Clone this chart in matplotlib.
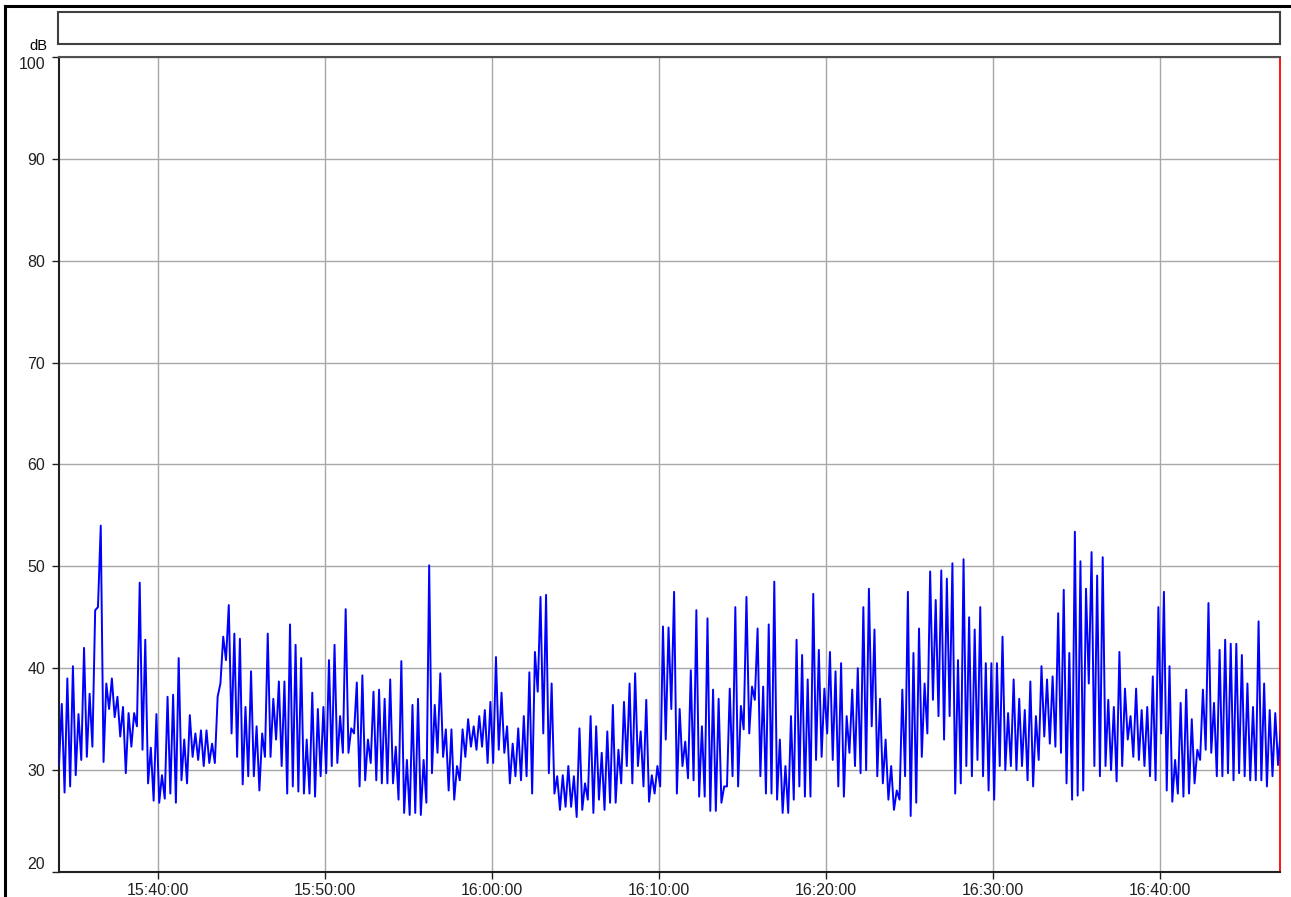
import numpy as np
import pandas as pd
import matplotlib
matplotlib.use('Agg')
import matplotlib.pyplot as plt
from matplotlib.patches import Rectangle
from matplotlib.lines import Line2D

# sound level record in 20 s bins (min / max per bin)
day = '2013-01-01 '
start = pd.Timestamp(day + '15:34:04')
end = pd.Timestamp(day + '16:47:11')
bin_sec = 20

lo_db = [
    30.5, 27.8, 28.4, 29.5, 31.0, 31.3, 32.3, 46.0, 30.8, 36.0,
    35.2, 33.3, 29.7, 32.3, 34.3, 32.0, 28.7, 27.0, 26.8, 27.2,
    27.7, 26.8, 29.0, 28.7, 31.3, 31.0, 30.4, 30.7, 30.7, 38.5,
    40.8, 33.6, 31.3, 28.6, 29.4, 29.4, 28.0, 31.3, 31.3, 33.0,
    30.4, 27.7, 28.4, 27.9, 27.7, 27.7, 27.4, 29.4, 29.7, 30.4,
    30.7, 31.7, 31.7, 33.6, 28.4, 29.0, 30.7, 29.0, 28.7, 28.7,
    28.7, 27.1, 25.8, 25.6, 25.8, 25.6, 26.8, 29.7, 31.7, 31.3,
    28.0, 27.1, 29.0, 31.3, 32.3, 32.0, 32.3, 30.7, 30.7, 32.0,
    31.7, 28.7, 29.4, 29.0, 29.4, 27.7, 37.7, 33.6, 29.7, 27.7,
    26.1, 26.4, 26.4, 25.4, 26.1, 27.1, 25.8, 27.1, 26.1, 26.8,
    26.8, 28.7, 30.4, 28.7, 30.4, 28.4, 26.9, 27.7, 28.4, 33.0,
    36.0, 27.7, 30.4, 29.2, 29.0, 27.4, 27.4, 26.0, 26.0, 26.8,
    28.4, 29.4, 28.4, 34.0, 33.6, 36.9, 29.4, 27.7, 27.7, 27.1,
    25.8, 25.8, 27.1, 28.4, 27.4, 27.4, 31.0, 31.3, 33.6, 31.0,
    28.4, 27.4, 31.7, 30.4, 29.7, 30.0, 34.3, 29.4, 28.7, 27.1,
    26.1, 27.1, 29.4, 25.5, 26.8, 31.3, 33.6, 36.9, 35.3, 33.0,
    35.3, 27.7, 28.7, 30.4, 29.4, 31.0, 29.4, 28.0, 27.1, 30.4,
    30.0, 30.4, 30.0, 30.4, 29.0, 28.4, 31.0, 33.3, 32.6, 32.3,
    31.7, 28.7, 27.1, 27.5, 28.0, 38.5, 30.4, 29.4, 30.4, 30.0,
    28.9, 30.4, 33.0, 31.3, 31.0, 30.4, 29.4, 29.0, 33.6, 28.0,
    26.9, 27.7, 27.4, 27.7, 28.7, 31.0, 32.0, 31.7, 29.4, 29.4,
    29.7, 29.0, 29.7, 29.4, 29.0, 29.0, 29.0, 28.4, 29.4, 30.5,
]
hi_db = [
    36.5, 39.0, 40.2, 35.5, 42.0, 37.5, 45.7, 54.0, 38.5, 39.0,
    37.2, 36.2, 35.6, 35.6, 48.4, 42.8, 32.2, 35.5, 29.5, 37.2,
    37.4, 41.0, 33.0, 35.4, 33.6, 33.9, 33.9, 32.6, 37.2, 43.1,
    46.2, 43.4, 42.9, 36.2, 39.7, 34.3, 33.6, 43.4, 37.0, 38.7,
    38.7, 44.3, 42.3, 41.0, 33.0, 37.6, 36.0, 36.2, 40.8, 42.3,
    35.3, 45.8, 34.1, 38.6, 39.3, 33.0, 37.7, 37.9, 37.0, 38.9,
    32.3, 40.7, 31.0, 36.4, 37.0, 31.0, 50.1, 36.4, 39.5, 34.0,
    34.0, 30.4, 34.0, 35.0, 34.3, 35.3, 35.9, 36.7, 41.1, 37.6,
    34.3, 32.6, 34.1, 35.3, 39.6, 41.6, 47.0, 47.2, 38.5, 29.4,
    29.5, 30.4, 29.4, 34.1, 28.7, 35.3, 34.3, 31.7, 33.8, 36.4,
    32.0, 36.7, 38.5, 39.5, 33.8, 36.9, 29.5, 30.4, 44.1, 44.0,
    47.5, 36.0, 32.8, 39.8, 45.7, 34.3, 44.9, 37.9, 37.0, 28.4,
    38.0, 46.0, 36.3, 47.0, 38.2, 43.9, 38.2, 44.3, 48.5, 33.0,
    30.4, 35.3, 42.8, 41.3, 38.9, 47.3, 41.8, 38.0, 41.6, 39.7,
    40.5, 35.3, 37.9, 40.0, 46.0, 47.8, 43.8, 37.0, 33.0, 30.4,
    28.0, 37.9, 47.5, 41.5, 43.9, 38.5, 49.5, 46.7, 49.6, 48.8,
    50.3, 40.8, 50.7, 45.0, 43.8, 46.0, 40.5, 40.5, 40.5, 43.1,
    35.6, 38.9, 37.0, 35.9, 38.7, 35.3, 40.2, 38.9, 39.2, 45.4,
    47.7, 41.5, 53.4, 50.5, 47.8, 51.4, 49.1, 50.9, 36.9, 36.2,
    41.6, 38.0, 35.3, 38.0, 35.9, 36.2, 39.2, 46.0, 47.5, 40.2,
    31.0, 36.6, 37.9, 35.0, 32.0, 37.9, 46.4, 36.6, 41.8, 42.8,
    42.4, 42.4, 41.3, 38.5, 36.2, 44.6, 38.5, 35.9, 35.6, 34.0,
]

y_ticks = [20, 30, 40, 50, 60, 70, 80, 90, 100]
x_labels = ['15:40:00', '15:50:00', '16:00:00', '16:10:00', '16:20:00',
            '16:30:00', '16:40:00']

W, H = 1291, 897
fs = 11.5
plt.rcParams['font.family'] = ['Liberation Sans', 'DejaVu Sans']

# one bin = low value then high value, so the trace zigzags like the dense raw data
n = len(lo_db)
t_lo = start + pd.to_timedelta(np.arange(n) * bin_sec, unit='s')
t_hi = t_lo + pd.Timedelta(seconds=bin_sec / 2)
times = np.empty(2 * n, dtype='datetime64[ns]')
times[0::2] = t_lo.values
times[1::2] = t_hi.values
level = np.empty(2 * n)
level[0::2] = lo_db
level[1::2] = hi_db

fig = plt.figure(figsize=(W / 100, H / 100), dpi=100)
ax = fig.add_axes([59 / W, (H - 872) / H, (1280 - 59) / W, (872 - 57) / H])

ax.plot(times, level, color='#0000ff', lw=1.4, zorder=3)

ax.set_xlim(start, end)
ax.set_ylim(20, 100)
ax.set_yticks(y_ticks)
ax.set_yticklabels([str(v) for v in y_ticks])
ax.set_xticks(pd.to_datetime([day + s for s in x_labels]))
ax.set_xticklabels(x_labels)

ax.grid(True, color='#a8a8a8', lw=1.0, zorder=1)
ax.tick_params(direction='out', length=5, width=1, colors='#202020',
               labelsize=fs, pad=3)
ax.tick_params(axis='y', pad=5)

for side in ['left', 'bottom']:
    ax.spines[side].set_color('#202020')
    ax.spines[side].set_linewidth(1.5)
ax.spines['top'].set_color('#505050')
ax.spines['top'].set_linewidth(1.5)
ax.spines['right'].set_color('#ff0000')
ax.spines['right'].set_linewidth(1.3)

# end labels sit inside the axis range, like the original
ylabs = ax.get_yticklabels()
ylabs[0].set_verticalalignment('bottom')
ylabs[-1].set_verticalalignment('top')

fig.text(38 / W, 1 - 46 / H, 'dB', ha='center', va='center', fontsize=fs - 1)

# empty legend panel above the plot
fig.patches.append(Rectangle((58 / W, 1 - 44 / H), (1280 - 58) / W, 32 / H,
                             transform=fig.transFigure, fill=False,
                             ec='#404040', lw=1.5))

# window frame on top and left
fig.add_artist(Line2D([5 / W, 1], [1 - 6 / H, 1 - 6 / H], color='black', lw=2.2))
fig.add_artist(Line2D([5 / W, 5 / W], [0, 1 - 6 / H], color='black', lw=2.2))

fig.savefig('out.png', dpi=100)
